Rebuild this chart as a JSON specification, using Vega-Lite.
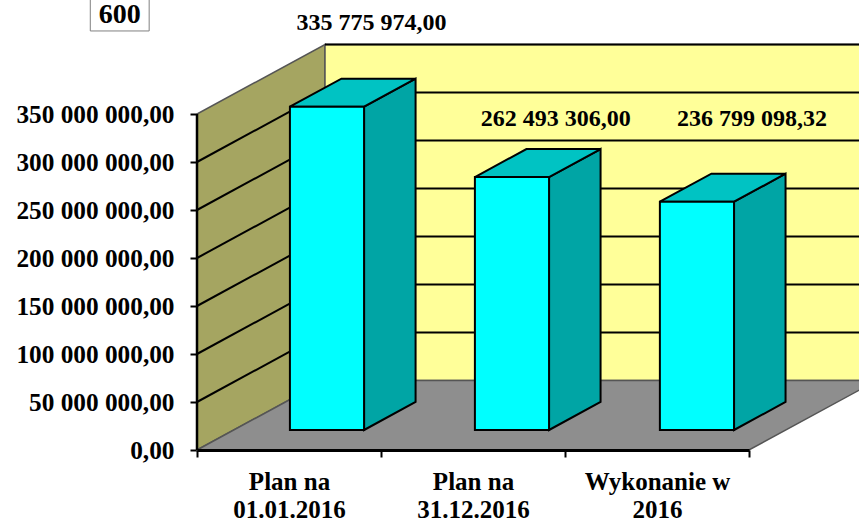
{
"$schema":"https://vega.github.io/schema/vega-lite/v6.json",
"width":662,"height":450,
"autosize":{"type":"none"},
"padding":{"left":197,"top":0,"right":0,"bottom":71},
"background":"white",
"config":{"view":{"stroke":null},"text":{"font":"Liberation Serif"}},
"datasets":{
"bars":[
{"category":"Plan na|01.01.2016","value":335775974,"i":0},
{"category":"Plan na|31.12.2016","value":262493306,"i":1},
{"category":"Wykonanie w|2016","value":236799098.32,"i":2}
],
"ticks":[{"tick":0},{"tick":50000000},{"tick":100000000},{"tick":150000000},{"tick":200000000},{"tick":250000000},{"tick":300000000},{"tick":350000000}],
"sidewall":[{"d":0,"low":0,"high":350000000},{"d":0.6957,"low":72400000,"high":422400000}],
"backwall":[{"d":0.6957,"low":72400000,"high":422400000},{"d":3.6957,"low":72400000,"high":422400000}],
"floor":[{"d":0,"low":0,"high":0},{"d":0.6957,"low":0,"high":72400000},{"d":3,"low":0,"high":72400000},{"d":3.6957,"low":72400000,"high":72400000}],
"labels":[
{"text":"335 775 974,00","d":0.948,"h":444500000},
{"text":"262 493 306,00","d":1.95,"h":345000000},
{"text":"236 799 098,32","d":3.016,"h":345000000}
],
"box":[{"text":"600","d0":-0.58,"d1":-0.26,"h0":436500000,"h1":470000000,"d":-0.42,"h":453600000}]
},
"data":{"name":"bars"},
"resolve":{"scale":{"x":"independent"},"axis":{"y":"independent"}},
"layer":[
{"data":{"name":"sidewall"},
 "mark":{"type":"area","orient":"vertical","fill":"#A5A561","stroke":"#555555","strokeWidth":1.5},
 "encoding":{
  "x":{"field":"d","type":"quantitative","scale":{"domain":[0,3.598],"nice":false,"zero":false},"axis":null},
  "y":{"field":"low","type":"quantitative","stack":null,"scale":{"domain":[0,468750000],"nice":false,"zero":false},
   "axis":{"values":[0,50000000,100000000,150000000,200000000,250000000,300000000,350000000],"title":null,"domain":false,"grid":false,"tickColor":"#000000","tickSize":7,"tickWidth":2,"labelFont":"Liberation Serif","labelFontWeight":"bold","labelFontSize":25.3,"labelColor":"#000000","labelPadding":16,"labelExpr":"replace(replace(format(datum.value,',.2f'),/,/g,' '),'.',',')"}},
  "y2":{"field":"high"}}},
{"data":{"name":"backwall"},
 "mark":{"type":"area","orient":"vertical","fill":"#FFFF99","stroke":"#555555","strokeWidth":1.5},
 "encoding":{
  "x":{"field":"d","type":"quantitative","scale":{"domain":[0,3.598],"nice":false,"zero":false},"axis":null},
  "y":{"field":"low","type":"quantitative","stack":null,"scale":{"domain":[0,468750000],"nice":false,"zero":false},"axis":null},
  "y2":{"field":"high"}}},
{"data":{"name":"floor"},
 "mark":{"type":"area","orient":"vertical","fill":"#8E8E8E","stroke":"#555555","strokeWidth":1.5},
 "encoding":{
  "x":{"field":"d","type":"quantitative","scale":{"domain":[0,3.598],"nice":false,"zero":false},"axis":null},
  "y":{"field":"low","type":"quantitative","stack":null,"scale":{"domain":[0,468750000],"nice":false,"zero":false},"axis":null},
  "y2":{"field":"high"}}},
{"data":{"name":"ticks"},
 "transform":[{"filter":"datum.tick>0 && datum.tick<350000000"},{"calculate":"0","as":"d0"},{"calculate":"0.6957","as":"d1"},{"calculate":"datum.tick+72400000","as":"h1"}],
 "mark":{"type":"rule","color":"#000000","strokeWidth":2},
 "encoding":{
  "x":{"field":"d0","type":"quantitative","scale":{"domain":[0,3.598],"nice":false,"zero":false},"axis":null},
  "x2":{"field":"d1"},
  "y":{"field":"tick","type":"quantitative","scale":{"domain":[0,468750000],"nice":false,"zero":false},"axis":null},
  "y2":{"field":"h1"}}},
{"data":{"name":"ticks"},
 "transform":[{"filter":"datum.tick>0"},{"calculate":"0.6957","as":"d0"},{"calculate":"3.6957","as":"d1"},{"calculate":"datum.tick+72400000","as":"h1"}],
 "mark":{"type":"rule","color":"#000000","strokeWidth":2},
 "encoding":{
  "x":{"field":"d0","type":"quantitative","scale":{"domain":[0,3.598],"nice":false,"zero":false},"axis":null},
  "x2":{"field":"d1"},
  "y":{"field":"h1","type":"quantitative","scale":{"domain":[0,468750000],"nice":false,"zero":false},"axis":null}}},
{"data":{"name":"sidewall"},
 "transform":[{"filter":"datum.d==0"}],
 "mark":{"type":"rule","color":"#000000","strokeWidth":2.5},
 "encoding":{
  "x":{"field":"d","type":"quantitative","scale":{"domain":[0,3.598],"nice":false,"zero":false},"axis":null},
  "y":{"field":"low","type":"quantitative","scale":{"domain":[0,468750000],"nice":false,"zero":false},"axis":null},
  "y2":{"field":"high"}}},
{"transform":[
  {"calculate":"[0,1]","as":"v"},{"flatten":["v"]},
  {"calculate":"0.505+1.0054*datum.i+0.403+0.28*datum.v","as":"px"},
  {"calculate":"20830000+29170000*datum.v","as":"low"},
  {"calculate":"datum.low+datum.value+1000000","as":"high"}],
 "mark":{"type":"area","orient":"vertical","fill":"#00A5A5","stroke":"#000000","strokeWidth":2},
 "encoding":{
  "x":{"field":"px","type":"quantitative","scale":{"domain":[0,3.598],"nice":false,"zero":false},"axis":null},
  "y":{"field":"low","type":"quantitative","stack":null,"scale":{"domain":[0,468750000],"nice":false,"zero":false},"axis":null},
  "y2":{"field":"high"},
  "detail":{"field":"category"}}},
{"transform":[
  {"calculate":"[0,1,2,3]","as":"v"},{"flatten":["v"]},
  {"calculate":"0.505+1.0054*datum.i+[0,0.28,0.403,0.683][datum.v]","as":"px"},
  {"calculate":"21830000+datum.value","as":"top"},
  {"calculate":"datum.top+(datum.v==3?29170000:0)","as":"low"},
  {"calculate":"datum.top+(datum.v==0?0:29170000)","as":"high"}],
 "mark":{"type":"area","orient":"vertical","fill":"#00C3C3","stroke":"#000000","strokeWidth":2},
 "encoding":{
  "x":{"field":"px","type":"quantitative","scale":{"domain":[0,3.598],"nice":false,"zero":false},"axis":null},
  "y":{"field":"low","type":"quantitative","stack":null,"scale":{"domain":[0,468750000],"nice":false,"zero":false},"axis":null},
  "y2":{"field":"high"},
  "detail":{"field":"category"}}},
{"transform":[
  {"calculate":"0.505+1.0054*datum.i","as":"px0"},{"calculate":"0.505+1.0054*datum.i+0.403","as":"px1"},
  {"calculate":"20830000","as":"low"},{"calculate":"21830000+datum.value","as":"high"}],
 "mark":{"type":"rect","fill":"#00FFFF","stroke":"#000000","strokeWidth":2},
 "encoding":{
  "x":{"field":"px0","type":"quantitative","scale":{"domain":[0,3.598],"nice":false,"zero":false},"axis":null},
  "x2":{"field":"px1"},
  "y":{"field":"low","type":"quantitative","scale":{"domain":[0,468750000],"nice":false,"zero":false},"axis":null},
  "y2":{"field":"high"}}},
{"data":{"name":"labels"},
 "mark":{"type":"text","font":"Liberation Serif","fontWeight":"bold","fontSize":24,"color":"#000000","align":"center","baseline":"middle"},
 "encoding":{
  "x":{"field":"d","type":"quantitative","scale":{"domain":[0,3.598],"nice":false,"zero":false},"axis":null},
  "y":{"field":"h","type":"quantitative","scale":{"domain":[0,468750000],"nice":false,"zero":false},"axis":null},
  "text":{"field":"text"}}},
{"data":{"name":"box"},
 "mark":{"type":"rect","fill":"#FFFFFF","stroke":"#808080","strokeWidth":1},
 "encoding":{
  "x":{"field":"d0","type":"quantitative","scale":{"domain":[0,3.598],"nice":false,"zero":false},"axis":null},
  "x2":{"field":"d1"},
  "y":{"field":"h0","type":"quantitative","scale":{"domain":[0,468750000],"nice":false,"zero":false},"axis":null},
  "y2":{"field":"h1"}}},
{"data":{"name":"box"},
 "mark":{"type":"text","font":"Liberation Serif","fontWeight":"bold","fontSize":28,"color":"#000000","align":"center","baseline":"middle"},
 "encoding":{
  "x":{"field":"d","type":"quantitative","scale":{"domain":[0,3.598],"nice":false,"zero":false},"axis":null},
  "y":{"field":"h","type":"quantitative","scale":{"domain":[0,468750000],"nice":false,"zero":false},"axis":null},
  "text":{"field":"text"}}},
{"mark":{"type":"text","opacity":0,"text":" "},
 "encoding":{
  "x":{"field":"category","type":"nominal","sort":null,
   "scale":{"type":"band","range":[0,552],"paddingInner":0,"paddingOuter":0},
   "axis":{"title":null,"orient":"bottom","labelAngle":0,"tickBand":"extent","tickSize":7,"tickWidth":2,"tickColor":"#000000","domainColor":"#000000","domainWidth":3,"labelFont":"Liberation Serif","labelFontWeight":"bold","labelFontSize":25,"labelColor":"#000000","labelPadding":12,"labelLineHeight":28,"labelExpr":"split(datum.label,'|')","zindex":1}}}}
]
}
